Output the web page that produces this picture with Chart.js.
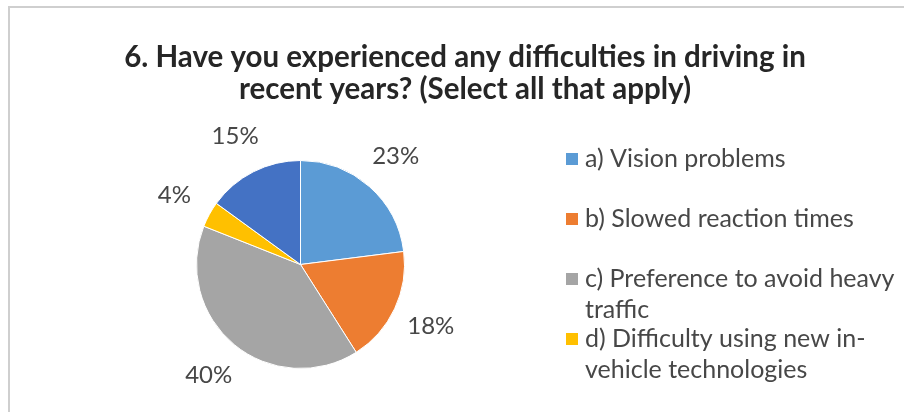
<!DOCTYPE html>
<html>
<head>
<meta charset="utf-8">
<title>Driving difficulties</title>
<script src="https://cdn.jsdelivr.net/npm/chart.js@4.4.1/dist/chart.umd.min.js"></script>
<style>
  html, body { margin: 0; padding: 0; background: #fff; overflow: hidden; }
  #frame {
    position: absolute; left: 8px; top: 6px;
    width: 920px; height: 430px;
    border-left: 2px solid #cfcfcf; border-top: 2px solid #cfcfcf;
  }
  canvas { display: block; }
</style>
</head>
<body>
<div id="frame"><canvas id="difficulties-chart" width="910" height="420"></canvas></div>
<script>
const categories = [
  ['a) Vision problems'],
  ['b) Slowed reaction times'],
  ['c) Preference to avoid heavy', 'traffic'],
  ['d) Difficulty using new in-', 'vehicle technologies'],
  ['e) None']
];
const percents = [23, 18, 40, 4, 15];
const sliceColors = ['#5B9BD5', '#ED7D31', '#A5A5A5', '#FFC000', '#4472C4'];
const titleLines = [
  '6. Have you experienced any difficulties in driving in',
  'recent years? (Select all that apply)'
];

const textColor = '#474747';

// title centred on the whole canvas, not just over the pie
const wideTitle = {
  id: 'wideTitle',
  afterDraw(chart, args, opts) {
    const ctx = chart.ctx;
    ctx.save();
    ctx.font = opts.font;
    ctx.fillStyle = opts.color;
    ctx.textAlign = 'center';
    ctx.textBaseline = 'middle';
    opts.text.forEach((line, k) => ctx.fillText(line, chart.width / 2, opts.top + k * opts.lineStep));
    ctx.restore();
  }
};

// percentages just outside each slice
const outsideLabels = {
  id: 'outsideLabels',
  afterDatasetsDraw(chart) {
    const ctx = chart.ctx;
    const meta = chart.getDatasetMeta(0);
    ctx.save();
    ctx.font = '24px Lato';
    ctx.fillStyle = textColor;
    ctx.textAlign = 'center';
    ctx.textBaseline = 'middle';
    meta.data.forEach((arc, i) => {
      const p = arc.getProps(['x', 'y', 'startAngle', 'endAngle', 'outerRadius'], true);
      const mid = (p.startAngle + p.endAngle) / 2;
      const d = p.outerRadius + 40;
      ctx.fillText(chart.data.datasets[0].data[i] + '%', p.x + Math.cos(mid) * d, p.y + Math.sin(mid) * d);
    });
    ctx.restore();
  }
};

// legend on the right, stops when the box runs out of room
const sideLegend = {
  id: 'sideLegend',
  afterDraw(chart, args, opts) {
    const ctx = chart.ctx;
    const ds = chart.data.datasets[0];
    ctx.save();
    ctx.font = opts.font;
    ctx.textBaseline = 'middle';
    let y = opts.top;
    chart.data.labels.forEach((lines, i) => {
      const bottom = y + (lines.length - 1) * opts.lineStep;
      if (bottom > opts.bottom) return;
      ctx.fillStyle = ds.backgroundColor[i];
      ctx.fillRect(opts.left, y - opts.box / 2, opts.box, opts.box);
      ctx.fillStyle = textColor;
      lines.forEach((line, k) => ctx.fillText(line, opts.left + opts.box + 7, y + k * opts.lineStep));
      y += opts.itemStep;
    });
    ctx.restore();
  }
};

new Chart(document.getElementById('difficulties-chart'), {
  type: 'pie',
  data: {
    labels: categories,
    datasets: [{
      data: percents,
      backgroundColor: sliceColors,
      borderColor: '#ffffff',
      borderWidth: 1
    }]
  },
  options: {
    responsive: false,
    animation: false,
    layout: { padding: { left: 186, right: 515, top: 120, bottom: 27 } },
    plugins: {
      legend: { display: false },
      tooltip: { enabled: false },
      title: { display: false },
      wideTitle: {
        text: titleLines,
        font: 'bold 29.5px Lato',
        color: '#262626',
        top: 49,
        lineStep: 32
      },
      sideLegend: {
        font: '25px Lato',
        left: 556,
        top: 151,
        box: 12,
        itemStep: 60,
        lineStep: 31,
        bottom: 380
      }
    }
  },
  plugins: [outsideLabels, sideLegend, wideTitle]
});
</script>
</body>
</html>
